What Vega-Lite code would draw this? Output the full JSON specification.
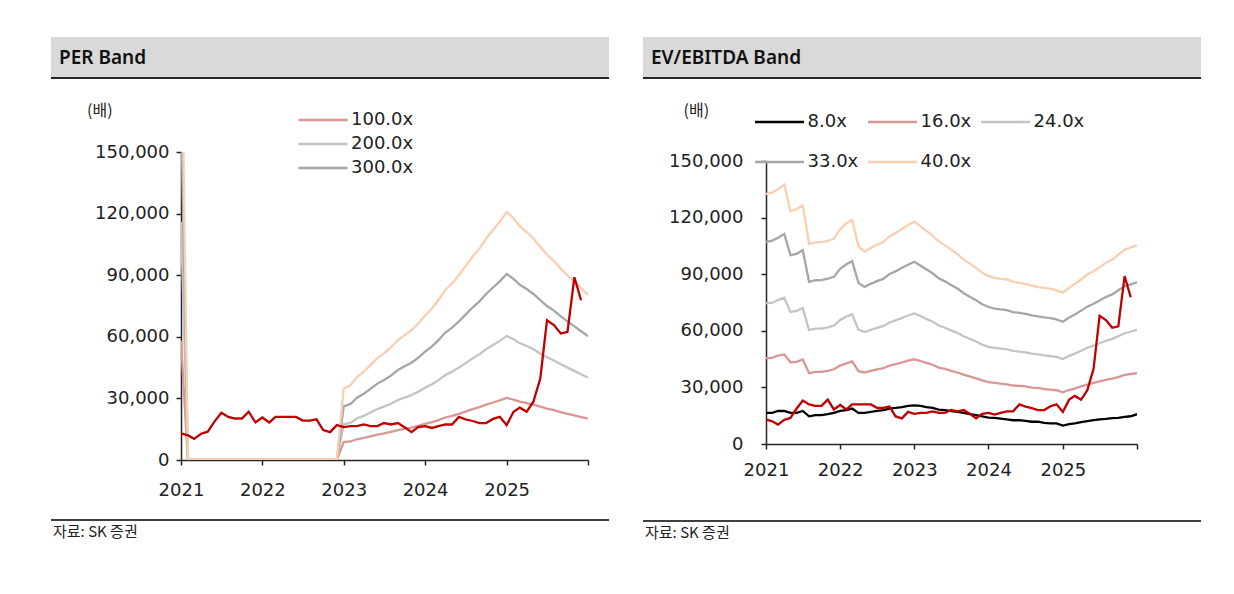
{
"$schema": "https://vega.github.io/schema/vega-lite/v6.json",
"padding": {"left": 50, "top": 37, "right": 0, "bottom": 0},
"background": "white",
"spacing": 32,
"resolve": {"scale": {"color": "independent"}, "legend": {"color": "independent"}},
"config": {
  "view": {"stroke": null},
  "axis": {"labelFont": "DejaVu Sans", "labelFontSize": 18, "labelColor": "#222222", "grid": false, "domainColor": "#262626", "tickColor": "#262626", "domainWidth": 1.5, "tickWidth": 1.5, "tickSize": 5},
  "legend": {"labelFont": "DejaVu Sans", "labelFontSize": 18, "labelColor": "#222222", "symbolType": "M-1.78,0H1.78", "symbolSize": 756, "symbolStrokeWidth": 2.5, "symbolOffset": 9.5, "labelOffset": 13, "padding": 0, "title": null}
},
"datasets": {
"per": [
{"d":"2021-01","s":"100.0x","v":58000},{"d":"2021-02","s":"100.0x","v":0},{"d":"2021-03","s":"100.0x","v":0},{"d":"2021-04","s":"100.0x","v":0},{"d":"2021-05","s":"100.0x","v":0},{"d":"2021-06","s":"100.0x","v":0},{"d":"2021-07","s":"100.0x","v":0},{"d":"2021-08","s":"100.0x","v":0},{"d":"2021-09","s":"100.0x","v":0},{"d":"2021-10","s":"100.0x","v":0},{"d":"2021-11","s":"100.0x","v":0},{"d":"2021-12","s":"100.0x","v":0},
{"d":"2022-01","s":"100.0x","v":0},{"d":"2022-02","s":"100.0x","v":0},{"d":"2022-03","s":"100.0x","v":0},{"d":"2022-04","s":"100.0x","v":0},{"d":"2022-05","s":"100.0x","v":0},{"d":"2022-06","s":"100.0x","v":0},{"d":"2022-07","s":"100.0x","v":0},{"d":"2022-08","s":"100.0x","v":0},{"d":"2022-09","s":"100.0x","v":0},{"d":"2022-10","s":"100.0x","v":0},{"d":"2022-11","s":"100.0x","v":0},{"d":"2022-12","s":"100.0x","v":0},
{"d":"2023-01","s":"100.0x","v":8700},{"d":"2023-02","s":"100.0x","v":9100},{"d":"2023-03","s":"100.0x","v":10100},{"d":"2023-04","s":"100.0x","v":10750},{"d":"2023-05","s":"100.0x","v":11550},{"d":"2023-06","s":"100.0x","v":12400},{"d":"2023-07","s":"100.0x","v":13000},{"d":"2023-08","s":"100.0x","v":13700},{"d":"2023-09","s":"100.0x","v":14600},{"d":"2023-10","s":"100.0x","v":15200},{"d":"2023-11","s":"100.0x","v":15800},{"d":"2023-12","s":"100.0x","v":16600},
{"d":"2024-01","s":"100.0x","v":17600},{"d":"2024-02","s":"100.0x","v":18450},{"d":"2024-03","s":"100.0x","v":19450},{"d":"2024-04","s":"100.0x","v":20700},{"d":"2024-05","s":"100.0x","v":21500},{"d":"2024-06","s":"100.0x","v":22500},{"d":"2024-07","s":"100.0x","v":23600},{"d":"2024-08","s":"100.0x","v":24750},{"d":"2024-09","s":"100.0x","v":25750},{"d":"2024-10","s":"100.0x","v":26950},{"d":"2024-11","s":"100.0x","v":28000},{"d":"2024-12","s":"100.0x","v":29000},
{"d":"2025-01","s":"100.0x","v":30200},{"d":"2025-02","s":"100.0x","v":29400},{"d":"2025-03","s":"100.0x","v":28450},{"d":"2025-04","s":"100.0x","v":27750},{"d":"2025-05","s":"100.0x","v":26950},{"d":"2025-06","s":"100.0x","v":25950},{"d":"2025-07","s":"100.0x","v":25000},{"d":"2025-08","s":"100.0x","v":24250},{"d":"2025-09","s":"100.0x","v":23300},{"d":"2025-10","s":"100.0x","v":22500},{"d":"2025-11","s":"100.0x","v":21700},{"d":"2025-12","s":"100.0x","v":20900},{"d":"2026-01","s":"100.0x","v":20100},

{"d":"2021-01","s":"200.0x","v":116000},{"d":"2021-02","s":"200.0x","v":0},{"d":"2021-03","s":"200.0x","v":0},{"d":"2021-04","s":"200.0x","v":0},{"d":"2021-05","s":"200.0x","v":0},{"d":"2021-06","s":"200.0x","v":0},{"d":"2021-07","s":"200.0x","v":0},{"d":"2021-08","s":"200.0x","v":0},{"d":"2021-09","s":"200.0x","v":0},{"d":"2021-10","s":"200.0x","v":0},{"d":"2021-11","s":"200.0x","v":0},{"d":"2021-12","s":"200.0x","v":0},
{"d":"2022-01","s":"200.0x","v":0},{"d":"2022-02","s":"200.0x","v":0},{"d":"2022-03","s":"200.0x","v":0},{"d":"2022-04","s":"200.0x","v":0},{"d":"2022-05","s":"200.0x","v":0},{"d":"2022-06","s":"200.0x","v":0},{"d":"2022-07","s":"200.0x","v":0},{"d":"2022-08","s":"200.0x","v":0},{"d":"2022-09","s":"200.0x","v":0},{"d":"2022-10","s":"200.0x","v":0},{"d":"2022-11","s":"200.0x","v":0},{"d":"2022-12","s":"200.0x","v":0},
{"d":"2023-01","s":"200.0x","v":17400},{"d":"2023-02","s":"200.0x","v":18200},{"d":"2023-03","s":"200.0x","v":20200},{"d":"2023-04","s":"200.0x","v":21500},{"d":"2023-05","s":"200.0x","v":23100},{"d":"2023-06","s":"200.0x","v":24800},{"d":"2023-07","s":"200.0x","v":26000},{"d":"2023-08","s":"200.0x","v":27400},{"d":"2023-09","s":"200.0x","v":29200},{"d":"2023-10","s":"200.0x","v":30400},{"d":"2023-11","s":"200.0x","v":31600},{"d":"2023-12","s":"200.0x","v":33200},
{"d":"2024-01","s":"200.0x","v":35200},{"d":"2024-02","s":"200.0x","v":36900},{"d":"2024-03","s":"200.0x","v":38900},{"d":"2024-04","s":"200.0x","v":41400},{"d":"2024-05","s":"200.0x","v":43000},{"d":"2024-06","s":"200.0x","v":45000},{"d":"2024-07","s":"200.0x","v":47200},{"d":"2024-08","s":"200.0x","v":49500},{"d":"2024-09","s":"200.0x","v":51500},{"d":"2024-10","s":"200.0x","v":53900},{"d":"2024-11","s":"200.0x","v":56000},{"d":"2024-12","s":"200.0x","v":58000},
{"d":"2025-01","s":"200.0x","v":60400},{"d":"2025-02","s":"200.0x","v":58800},{"d":"2025-03","s":"200.0x","v":56900},{"d":"2025-04","s":"200.0x","v":55500},{"d":"2025-05","s":"200.0x","v":53900},{"d":"2025-06","s":"200.0x","v":51900},{"d":"2025-07","s":"200.0x","v":50000},{"d":"2025-08","s":"200.0x","v":48500},{"d":"2025-09","s":"200.0x","v":46600},{"d":"2025-10","s":"200.0x","v":45000},{"d":"2025-11","s":"200.0x","v":43400},{"d":"2025-12","s":"200.0x","v":41800},{"d":"2026-01","s":"200.0x","v":40200},

{"d":"2021-01","s":"300.0x","v":174000},{"d":"2021-02","s":"300.0x","v":0},{"d":"2021-03","s":"300.0x","v":0},{"d":"2021-04","s":"300.0x","v":0},{"d":"2021-05","s":"300.0x","v":0},{"d":"2021-06","s":"300.0x","v":0},{"d":"2021-07","s":"300.0x","v":0},{"d":"2021-08","s":"300.0x","v":0},{"d":"2021-09","s":"300.0x","v":0},{"d":"2021-10","s":"300.0x","v":0},{"d":"2021-11","s":"300.0x","v":0},{"d":"2021-12","s":"300.0x","v":0},
{"d":"2022-01","s":"300.0x","v":0},{"d":"2022-02","s":"300.0x","v":0},{"d":"2022-03","s":"300.0x","v":0},{"d":"2022-04","s":"300.0x","v":0},{"d":"2022-05","s":"300.0x","v":0},{"d":"2022-06","s":"300.0x","v":0},{"d":"2022-07","s":"300.0x","v":0},{"d":"2022-08","s":"300.0x","v":0},{"d":"2022-09","s":"300.0x","v":0},{"d":"2022-10","s":"300.0x","v":0},{"d":"2022-11","s":"300.0x","v":0},{"d":"2022-12","s":"300.0x","v":0},
{"d":"2023-01","s":"300.0x","v":26100},{"d":"2023-02","s":"300.0x","v":27300},{"d":"2023-03","s":"300.0x","v":30300},{"d":"2023-04","s":"300.0x","v":32250},{"d":"2023-05","s":"300.0x","v":34650},{"d":"2023-06","s":"300.0x","v":37200},{"d":"2023-07","s":"300.0x","v":39000},{"d":"2023-08","s":"300.0x","v":41100},{"d":"2023-09","s":"300.0x","v":43800},{"d":"2023-10","s":"300.0x","v":45600},{"d":"2023-11","s":"300.0x","v":47400},{"d":"2023-12","s":"300.0x","v":49800},
{"d":"2024-01","s":"300.0x","v":52800},{"d":"2024-02","s":"300.0x","v":55350},{"d":"2024-03","s":"300.0x","v":58350},{"d":"2024-04","s":"300.0x","v":62100},{"d":"2024-05","s":"300.0x","v":64500},{"d":"2024-06","s":"300.0x","v":67500},{"d":"2024-07","s":"300.0x","v":70800},{"d":"2024-08","s":"300.0x","v":74250},{"d":"2024-09","s":"300.0x","v":77250},{"d":"2024-10","s":"300.0x","v":80850},{"d":"2024-11","s":"300.0x","v":84000},{"d":"2024-12","s":"300.0x","v":87000},
{"d":"2025-01","s":"300.0x","v":90600},{"d":"2025-02","s":"300.0x","v":88200},{"d":"2025-03","s":"300.0x","v":85350},{"d":"2025-04","s":"300.0x","v":83250},{"d":"2025-05","s":"300.0x","v":80850},{"d":"2025-06","s":"300.0x","v":77850},{"d":"2025-07","s":"300.0x","v":75000},{"d":"2025-08","s":"300.0x","v":72750},{"d":"2025-09","s":"300.0x","v":69900},{"d":"2025-10","s":"300.0x","v":67500},{"d":"2025-11","s":"300.0x","v":65100},{"d":"2025-12","s":"300.0x","v":62700},{"d":"2026-01","s":"300.0x","v":60300},

{"d":"2021-01","s":"400.0x","v":232000},{"d":"2021-02","s":"400.0x","v":0},{"d":"2021-03","s":"400.0x","v":0},{"d":"2021-04","s":"400.0x","v":0},{"d":"2021-05","s":"400.0x","v":0},{"d":"2021-06","s":"400.0x","v":0},{"d":"2021-07","s":"400.0x","v":0},{"d":"2021-08","s":"400.0x","v":0},{"d":"2021-09","s":"400.0x","v":0},{"d":"2021-10","s":"400.0x","v":0},{"d":"2021-11","s":"400.0x","v":0},{"d":"2021-12","s":"400.0x","v":0},
{"d":"2022-01","s":"400.0x","v":0},{"d":"2022-02","s":"400.0x","v":0},{"d":"2022-03","s":"400.0x","v":0},{"d":"2022-04","s":"400.0x","v":0},{"d":"2022-05","s":"400.0x","v":0},{"d":"2022-06","s":"400.0x","v":0},{"d":"2022-07","s":"400.0x","v":0},{"d":"2022-08","s":"400.0x","v":0},{"d":"2022-09","s":"400.0x","v":0},{"d":"2022-10","s":"400.0x","v":0},{"d":"2022-11","s":"400.0x","v":0},{"d":"2022-12","s":"400.0x","v":0},
{"d":"2023-01","s":"400.0x","v":34800},{"d":"2023-02","s":"400.0x","v":36400},{"d":"2023-03","s":"400.0x","v":40400},{"d":"2023-04","s":"400.0x","v":43000},{"d":"2023-05","s":"400.0x","v":46200},{"d":"2023-06","s":"400.0x","v":49600},{"d":"2023-07","s":"400.0x","v":52000},{"d":"2023-08","s":"400.0x","v":54800},{"d":"2023-09","s":"400.0x","v":58400},{"d":"2023-10","s":"400.0x","v":60800},{"d":"2023-11","s":"400.0x","v":63200},{"d":"2023-12","s":"400.0x","v":66400},
{"d":"2024-01","s":"400.0x","v":70400},{"d":"2024-02","s":"400.0x","v":73800},{"d":"2024-03","s":"400.0x","v":77800},{"d":"2024-04","s":"400.0x","v":82800},{"d":"2024-05","s":"400.0x","v":86000},{"d":"2024-06","s":"400.0x","v":90000},{"d":"2024-07","s":"400.0x","v":94400},{"d":"2024-08","s":"400.0x","v":99000},{"d":"2024-09","s":"400.0x","v":103000},{"d":"2024-10","s":"400.0x","v":107800},{"d":"2024-11","s":"400.0x","v":112000},{"d":"2024-12","s":"400.0x","v":116000},
{"d":"2025-01","s":"400.0x","v":120800},{"d":"2025-02","s":"400.0x","v":117600},{"d":"2025-03","s":"400.0x","v":113800},{"d":"2025-04","s":"400.0x","v":111000},{"d":"2025-05","s":"400.0x","v":107800},{"d":"2025-06","s":"400.0x","v":103800},{"d":"2025-07","s":"400.0x","v":100000},{"d":"2025-08","s":"400.0x","v":97000},{"d":"2025-09","s":"400.0x","v":93200},{"d":"2025-10","s":"400.0x","v":90000},{"d":"2025-11","s":"400.0x","v":86800},{"d":"2025-12","s":"400.0x","v":83600},{"d":"2026-01","s":"400.0x","v":80400},

{"d":"2021-01","s":"price","v":13000},{"d":"2021-02","s":"price","v":12000},{"d":"2021-03","s":"price","v":10300},{"d":"2021-04","s":"price","v":12800},{"d":"2021-05","s":"price","v":13800},{"d":"2021-06","s":"price","v":18800},{"d":"2021-07","s":"price","v":23000},{"d":"2021-08","s":"price","v":21000},{"d":"2021-09","s":"price","v":20200},{"d":"2021-10","s":"price","v":20200},{"d":"2021-11","s":"price","v":23500},{"d":"2021-12","s":"price","v":18300},
{"d":"2022-01","s":"price","v":20700},{"d":"2022-02","s":"price","v":18300},{"d":"2022-03","s":"price","v":21000},{"d":"2022-04","s":"price","v":21000},{"d":"2022-05","s":"price","v":21000},{"d":"2022-06","s":"price","v":21000},{"d":"2022-07","s":"price","v":19200},{"d":"2022-08","s":"price","v":19200},{"d":"2022-09","s":"price","v":19800},{"d":"2022-10","s":"price","v":14600},{"d":"2022-11","s":"price","v":13600},{"d":"2022-12","s":"price","v":17000},
{"d":"2023-01","s":"price","v":16000},{"d":"2023-02","s":"price","v":16500},{"d":"2023-03","s":"price","v":16500},{"d":"2023-04","s":"price","v":17300},{"d":"2023-05","s":"price","v":16500},{"d":"2023-06","s":"price","v":16500},{"d":"2023-07","s":"price","v":18000},{"d":"2023-08","s":"price","v":17300},{"d":"2023-09","s":"price","v":18000},{"d":"2023-10","s":"price","v":16000},{"d":"2023-11","s":"price","v":13600},{"d":"2023-12","s":"price","v":16000},
{"d":"2024-01","s":"price","v":16500},{"d":"2024-02","s":"price","v":15600},{"d":"2024-03","s":"price","v":16500},{"d":"2024-04","s":"price","v":17300},{"d":"2024-05","s":"price","v":17300},{"d":"2024-06","s":"price","v":21000},{"d":"2024-07","s":"price","v":19800},{"d":"2024-08","s":"price","v":19000},{"d":"2024-09","s":"price","v":18000},{"d":"2024-10","s":"price","v":18000},{"d":"2024-11","s":"price","v":20000},{"d":"2024-12","s":"price","v":21000},
{"d":"2025-01","s":"price","v":17000},{"d":"2025-02","s":"price","v":23500},{"d":"2025-03","s":"price","v":25500},{"d":"2025-04","s":"price","v":23500},{"d":"2025-05","s":"price","v":28400},{"d":"2025-06","s":"price","v":39700},{"d":"2025-07","s":"price","v":68000},{"d":"2025-08","s":"price","v":65700},{"d":"2025-09","s":"price","v":61600},{"d":"2025-10","s":"price","v":62400},{"d":"2025-11","s":"price","v":89000},{"d":"2025-12","s":"price","v":77800}
],
"ev": [
{"d":"2021-01","s":"8.0x","v":16500},{"d":"2021-02","s":"8.0x","v":16500},{"d":"2021-03","s":"8.0x","v":17500},{"d":"2021-04","s":"8.0x","v":17500},{"d":"2021-05","s":"8.0x","v":16500},{"d":"2021-06","s":"8.0x","v":16500},{"d":"2021-07","s":"8.0x","v":17500},{"d":"2021-08","s":"8.0x","v":14700},{"d":"2021-09","s":"8.0x","v":15300},{"d":"2021-10","s":"8.0x","v":15300},{"d":"2021-11","s":"8.0x","v":15800},{"d":"2021-12","s":"8.0x","v":16500},
{"d":"2022-01","s":"8.0x","v":17500},{"d":"2022-02","s":"8.0x","v":17900},{"d":"2022-03","s":"8.0x","v":18800},{"d":"2022-04","s":"8.0x","v":16500},{"d":"2022-05","s":"8.0x","v":16500},{"d":"2022-06","s":"8.0x","v":17000},{"d":"2022-07","s":"8.0x","v":17500},{"d":"2022-08","s":"8.0x","v":17900},{"d":"2022-09","s":"8.0x","v":18800},{"d":"2022-10","s":"8.0x","v":19100},{"d":"2022-11","s":"8.0x","v":19600},{"d":"2022-12","s":"8.0x","v":20200},
{"d":"2023-01","s":"8.0x","v":20500},{"d":"2023-02","s":"8.0x","v":20200},{"d":"2023-03","s":"8.0x","v":19600},{"d":"2023-04","s":"8.0x","v":19100},{"d":"2023-05","s":"8.0x","v":18200},{"d":"2023-06","s":"8.0x","v":17900},{"d":"2023-07","s":"8.0x","v":17400},{"d":"2023-08","s":"8.0x","v":17000},{"d":"2023-09","s":"8.0x","v":16500},{"d":"2023-10","s":"8.0x","v":15800},{"d":"2023-11","s":"8.0x","v":15300},{"d":"2023-12","s":"8.0x","v":14700},
{"d":"2024-01","s":"8.0x","v":14000},{"d":"2024-02","s":"8.0x","v":13900},{"d":"2024-03","s":"8.0x","v":13500},{"d":"2024-04","s":"8.0x","v":13000},{"d":"2024-05","s":"8.0x","v":12600},{"d":"2024-06","s":"8.0x","v":12600},{"d":"2024-07","s":"8.0x","v":12300},{"d":"2024-08","s":"8.0x","v":11800},{"d":"2024-09","s":"8.0x","v":11800},{"d":"2024-10","s":"8.0x","v":11200},{"d":"2024-11","s":"8.0x","v":10900},{"d":"2024-12","s":"8.0x","v":10900},
{"d":"2025-01","s":"8.0x","v":9800},{"d":"2025-02","s":"8.0x","v":10500},{"d":"2025-03","s":"8.0x","v":10900},{"d":"2025-04","s":"8.0x","v":11600},{"d":"2025-05","s":"8.0x","v":12100},{"d":"2025-06","s":"8.0x","v":12600},{"d":"2025-07","s":"8.0x","v":13000},{"d":"2025-08","s":"8.0x","v":13300},{"d":"2025-09","s":"8.0x","v":13700},{"d":"2025-10","s":"8.0x","v":13900},{"d":"2025-11","s":"8.0x","v":14400},{"d":"2025-12","s":"8.0x","v":14700},{"d":"2026-01","s":"8.0x","v":15800},

{"d":"2021-01","s":"16.0x","v":45500},{"d":"2021-02","s":"16.0x","v":45700},{"d":"2021-03","s":"16.0x","v":46900},{"d":"2021-04","s":"16.0x","v":47500},{"d":"2021-05","s":"16.0x","v":43300},{"d":"2021-06","s":"16.0x","v":43500},{"d":"2021-07","s":"16.0x","v":44800},{"d":"2021-08","s":"16.0x","v":37500},{"d":"2021-09","s":"16.0x","v":38200},{"d":"2021-10","s":"16.0x","v":38200},{"d":"2021-11","s":"16.0x","v":38800},{"d":"2021-12","s":"16.0x","v":39600},
{"d":"2022-01","s":"16.0x","v":41600},{"d":"2022-02","s":"16.0x","v":42700},{"d":"2022-03","s":"16.0x","v":43800},{"d":"2022-04","s":"16.0x","v":38600},{"d":"2022-05","s":"16.0x","v":37900},{"d":"2022-06","s":"16.0x","v":38700},{"d":"2022-07","s":"16.0x","v":39500},{"d":"2022-08","s":"16.0x","v":40200},{"d":"2022-09","s":"16.0x","v":41600},{"d":"2022-10","s":"16.0x","v":42300},{"d":"2022-11","s":"16.0x","v":43200},{"d":"2022-12","s":"16.0x","v":44200},
{"d":"2023-01","s":"16.0x","v":44900},{"d":"2023-02","s":"16.0x","v":44000},{"d":"2023-03","s":"16.0x","v":43000},{"d":"2023-04","s":"16.0x","v":42000},{"d":"2023-05","s":"16.0x","v":40500},{"d":"2023-06","s":"16.0x","v":39800},{"d":"2023-07","s":"16.0x","v":38800},{"d":"2023-08","s":"16.0x","v":37900},{"d":"2023-09","s":"16.0x","v":36800},{"d":"2023-10","s":"16.0x","v":35800},{"d":"2023-11","s":"16.0x","v":34800},{"d":"2023-12","s":"16.0x","v":33700},
{"d":"2024-01","s":"16.0x","v":32800},{"d":"2024-02","s":"16.0x","v":32400},{"d":"2024-03","s":"16.0x","v":32000},{"d":"2024-04","s":"16.0x","v":31600},{"d":"2024-05","s":"16.0x","v":31000},{"d":"2024-06","s":"16.0x","v":30800},{"d":"2024-07","s":"16.0x","v":30500},{"d":"2024-08","s":"16.0x","v":29900},{"d":"2024-09","s":"16.0x","v":29700},{"d":"2024-10","s":"16.0x","v":29100},{"d":"2024-11","s":"16.0x","v":28800},{"d":"2024-12","s":"16.0x","v":28500},
{"d":"2025-01","s":"16.0x","v":27400},{"d":"2025-02","s":"16.0x","v":28600},{"d":"2025-03","s":"16.0x","v":29400},{"d":"2025-04","s":"16.0x","v":30500},{"d":"2025-05","s":"16.0x","v":31500},{"d":"2025-06","s":"16.0x","v":32400},{"d":"2025-07","s":"16.0x","v":33200},{"d":"2025-08","s":"16.0x","v":34000},{"d":"2025-09","s":"16.0x","v":34700},{"d":"2025-10","s":"16.0x","v":35500},{"d":"2025-11","s":"16.0x","v":36600},{"d":"2025-12","s":"16.0x","v":37100},{"d":"2026-01","s":"16.0x","v":37500},

{"d":"2021-01","s":"24.0x","v":74500},{"d":"2021-02","s":"24.0x","v":74900},{"d":"2021-03","s":"24.0x","v":76300},{"d":"2021-04","s":"24.0x","v":77500},{"d":"2021-05","s":"24.0x","v":70000},{"d":"2021-06","s":"24.0x","v":70500},{"d":"2021-07","s":"24.0x","v":72100},{"d":"2021-08","s":"24.0x","v":60400},{"d":"2021-09","s":"24.0x","v":61100},{"d":"2021-10","s":"24.0x","v":61200},{"d":"2021-11","s":"24.0x","v":61800},{"d":"2021-12","s":"24.0x","v":62700},
{"d":"2022-01","s":"24.0x","v":65800},{"d":"2022-02","s":"24.0x","v":67500},{"d":"2022-03","s":"24.0x","v":68800},{"d":"2022-04","s":"24.0x","v":60600},{"d":"2022-05","s":"24.0x","v":59300},{"d":"2022-06","s":"24.0x","v":60500},{"d":"2022-07","s":"24.0x","v":61600},{"d":"2022-08","s":"24.0x","v":62500},{"d":"2022-09","s":"24.0x","v":64400},{"d":"2022-10","s":"24.0x","v":65500},{"d":"2022-11","s":"24.0x","v":66800},{"d":"2022-12","s":"24.0x","v":68100},
{"d":"2023-01","s":"24.0x","v":69200},{"d":"2023-02","s":"24.0x","v":67800},{"d":"2023-03","s":"24.0x","v":66300},{"d":"2023-04","s":"24.0x","v":64800},{"d":"2023-05","s":"24.0x","v":62800},{"d":"2023-06","s":"24.0x","v":61600},{"d":"2023-07","s":"24.0x","v":60200},{"d":"2023-08","s":"24.0x","v":58900},{"d":"2023-09","s":"24.0x","v":57100},{"d":"2023-10","s":"24.0x","v":55700},{"d":"2023-11","s":"24.0x","v":54300},{"d":"2023-12","s":"24.0x","v":52700},
{"d":"2024-01","s":"24.0x","v":51500},{"d":"2024-02","s":"24.0x","v":51000},{"d":"2024-03","s":"24.0x","v":50500},{"d":"2024-04","s":"24.0x","v":50100},{"d":"2024-05","s":"24.0x","v":49300},{"d":"2024-06","s":"24.0x","v":49000},{"d":"2024-07","s":"24.0x","v":48600},{"d":"2024-08","s":"24.0x","v":47900},{"d":"2024-09","s":"24.0x","v":47500},{"d":"2024-10","s":"24.0x","v":47000},{"d":"2024-11","s":"24.0x","v":46600},{"d":"2024-12","s":"24.0x","v":46200},
{"d":"2025-01","s":"24.0x","v":45000},{"d":"2025-02","s":"24.0x","v":46700},{"d":"2025-03","s":"24.0x","v":47900},{"d":"2025-04","s":"24.0x","v":49400},{"d":"2025-05","s":"24.0x","v":51000},{"d":"2025-06","s":"24.0x","v":52100},{"d":"2025-07","s":"24.0x","v":53400},{"d":"2025-08","s":"24.0x","v":54700},{"d":"2025-09","s":"24.0x","v":55700},{"d":"2025-10","s":"24.0x","v":57200},{"d":"2025-11","s":"24.0x","v":58700},{"d":"2025-12","s":"24.0x","v":59500},{"d":"2026-01","s":"24.0x","v":60600},

{"d":"2021-01","s":"33.0x","v":107100},{"d":"2021-02","s":"33.0x","v":107800},{"d":"2021-03","s":"33.0x","v":109300},{"d":"2021-04","s":"33.0x","v":111300},{"d":"2021-05","s":"33.0x","v":100100},{"d":"2021-06","s":"33.0x","v":100800},{"d":"2021-07","s":"33.0x","v":102800},{"d":"2021-08","s":"33.0x","v":86000},{"d":"2021-09","s":"33.0x","v":86800},{"d":"2021-10","s":"33.0x","v":86900},{"d":"2021-11","s":"33.0x","v":87600},{"d":"2021-12","s":"33.0x","v":88600},
{"d":"2022-01","s":"33.0x","v":92900},{"d":"2022-02","s":"33.0x","v":95300},{"d":"2022-03","s":"33.0x","v":96900},{"d":"2022-04","s":"33.0x","v":85400},{"d":"2022-05","s":"33.0x","v":83300},{"d":"2022-06","s":"33.0x","v":84900},{"d":"2022-07","s":"33.0x","v":86300},{"d":"2022-08","s":"33.0x","v":87500},{"d":"2022-09","s":"33.0x","v":90100},{"d":"2022-10","s":"33.0x","v":91500},{"d":"2022-11","s":"33.0x","v":93400},{"d":"2022-12","s":"33.0x","v":95000},
{"d":"2023-01","s":"33.0x","v":96600},{"d":"2023-02","s":"33.0x","v":94500},{"d":"2023-03","s":"33.0x","v":92600},{"d":"2023-04","s":"33.0x","v":90500},{"d":"2023-05","s":"33.0x","v":87900},{"d":"2023-06","s":"33.0x","v":86200},{"d":"2023-07","s":"33.0x","v":84300},{"d":"2023-08","s":"33.0x","v":82400},{"d":"2023-09","s":"33.0x","v":79900},{"d":"2023-10","s":"33.0x","v":78100},{"d":"2023-11","s":"33.0x","v":76200},{"d":"2023-12","s":"33.0x","v":74100},
{"d":"2024-01","s":"33.0x","v":72600},{"d":"2024-02","s":"33.0x","v":71800},{"d":"2024-03","s":"33.0x","v":71300},{"d":"2024-04","s":"33.0x","v":71000},{"d":"2024-05","s":"33.0x","v":69900},{"d":"2024-06","s":"33.0x","v":69500},{"d":"2024-07","s":"33.0x","v":69000},{"d":"2024-08","s":"33.0x","v":68200},{"d":"2024-09","s":"33.0x","v":67600},{"d":"2024-10","s":"33.0x","v":67100},{"d":"2024-11","s":"33.0x","v":66700},{"d":"2024-12","s":"33.0x","v":66000},
{"d":"2025-01","s":"33.0x","v":64800},{"d":"2025-02","s":"33.0x","v":67000},{"d":"2025-03","s":"33.0x","v":68700},{"d":"2025-04","s":"33.0x","v":70700},{"d":"2025-05","s":"33.0x","v":72800},{"d":"2025-06","s":"33.0x","v":74300},{"d":"2025-07","s":"33.0x","v":76000},{"d":"2025-08","s":"33.0x","v":77900},{"d":"2025-09","s":"33.0x","v":79300},{"d":"2025-10","s":"33.0x","v":81500},{"d":"2025-11","s":"33.0x","v":83600},{"d":"2025-12","s":"33.0x","v":84600},{"d":"2026-01","s":"33.0x","v":85700},

{"d":"2021-01","s":"40.0x","v":132500},{"d":"2021-02","s":"40.0x","v":133300},{"d":"2021-03","s":"40.0x","v":135000},{"d":"2021-04","s":"40.0x","v":137500},{"d":"2021-05","s":"40.0x","v":123500},{"d":"2021-06","s":"40.0x","v":124400},{"d":"2021-07","s":"40.0x","v":126700},{"d":"2021-08","s":"40.0x","v":106000},{"d":"2021-09","s":"40.0x","v":106800},{"d":"2021-10","s":"40.0x","v":107000},{"d":"2021-11","s":"40.0x","v":107700},{"d":"2021-12","s":"40.0x","v":108800},
{"d":"2022-01","s":"40.0x","v":114000},{"d":"2022-02","s":"40.0x","v":117000},{"d":"2022-03","s":"40.0x","v":118800},{"d":"2022-04","s":"40.0x","v":104700},{"d":"2022-05","s":"40.0x","v":102000},{"d":"2022-06","s":"40.0x","v":103900},{"d":"2022-07","s":"40.0x","v":105600},{"d":"2022-08","s":"40.0x","v":107000},{"d":"2022-09","s":"40.0x","v":110000},{"d":"2022-10","s":"40.0x","v":111800},{"d":"2022-11","s":"40.0x","v":114000},{"d":"2022-12","s":"40.0x","v":116000},
{"d":"2023-01","s":"40.0x","v":117900},{"d":"2023-02","s":"40.0x","v":115300},{"d":"2023-03","s":"40.0x","v":113000},{"d":"2023-04","s":"40.0x","v":110500},{"d":"2023-05","s":"40.0x","v":107400},{"d":"2023-06","s":"40.0x","v":105300},{"d":"2023-07","s":"40.0x","v":103000},{"d":"2023-08","s":"40.0x","v":100700},{"d":"2023-09","s":"40.0x","v":97700},{"d":"2023-10","s":"40.0x","v":95600},{"d":"2023-11","s":"40.0x","v":93300},{"d":"2023-12","s":"40.0x","v":90700},
{"d":"2024-01","s":"40.0x","v":89000},{"d":"2024-02","s":"40.0x","v":88000},{"d":"2024-03","s":"40.0x","v":87500},{"d":"2024-04","s":"40.0x","v":87200},{"d":"2024-05","s":"40.0x","v":86000},{"d":"2024-06","s":"40.0x","v":85400},{"d":"2024-07","s":"40.0x","v":84900},{"d":"2024-08","s":"40.0x","v":84000},{"d":"2024-09","s":"40.0x","v":83200},{"d":"2024-10","s":"40.0x","v":82800},{"d":"2024-11","s":"40.0x","v":82300},{"d":"2024-12","s":"40.0x","v":81400},
{"d":"2025-01","s":"40.0x","v":80200},{"d":"2025-02","s":"40.0x","v":82800},{"d":"2025-03","s":"40.0x","v":84900},{"d":"2025-04","s":"40.0x","v":87200},{"d":"2025-05","s":"40.0x","v":89800},{"d":"2025-06","s":"40.0x","v":91600},{"d":"2025-07","s":"40.0x","v":93700},{"d":"2025-08","s":"40.0x","v":96000},{"d":"2025-09","s":"40.0x","v":97700},{"d":"2025-10","s":"40.0x","v":100400},{"d":"2025-11","s":"40.0x","v":103000},{"d":"2025-12","s":"40.0x","v":104200},{"d":"2026-01","s":"40.0x","v":105300},

{"d":"2021-01","s":"price","v":13000},{"d":"2021-02","s":"price","v":12000},{"d":"2021-03","s":"price","v":10300},{"d":"2021-04","s":"price","v":12800},{"d":"2021-05","s":"price","v":13800},{"d":"2021-06","s":"price","v":18800},{"d":"2021-07","s":"price","v":23000},{"d":"2021-08","s":"price","v":21000},{"d":"2021-09","s":"price","v":20200},{"d":"2021-10","s":"price","v":20200},{"d":"2021-11","s":"price","v":23500},{"d":"2021-12","s":"price","v":18300},
{"d":"2022-01","s":"price","v":20700},{"d":"2022-02","s":"price","v":18300},{"d":"2022-03","s":"price","v":21000},{"d":"2022-04","s":"price","v":21000},{"d":"2022-05","s":"price","v":21000},{"d":"2022-06","s":"price","v":21000},{"d":"2022-07","s":"price","v":19200},{"d":"2022-08","s":"price","v":19200},{"d":"2022-09","s":"price","v":19800},{"d":"2022-10","s":"price","v":14600},{"d":"2022-11","s":"price","v":13600},{"d":"2022-12","s":"price","v":17000},
{"d":"2023-01","s":"price","v":16000},{"d":"2023-02","s":"price","v":16500},{"d":"2023-03","s":"price","v":16500},{"d":"2023-04","s":"price","v":17300},{"d":"2023-05","s":"price","v":16500},{"d":"2023-06","s":"price","v":16500},{"d":"2023-07","s":"price","v":18000},{"d":"2023-08","s":"price","v":17300},{"d":"2023-09","s":"price","v":18000},{"d":"2023-10","s":"price","v":16000},{"d":"2023-11","s":"price","v":13600},{"d":"2023-12","s":"price","v":16000},
{"d":"2024-01","s":"price","v":16500},{"d":"2024-02","s":"price","v":15600},{"d":"2024-03","s":"price","v":16500},{"d":"2024-04","s":"price","v":17300},{"d":"2024-05","s":"price","v":17300},{"d":"2024-06","s":"price","v":21000},{"d":"2024-07","s":"price","v":19800},{"d":"2024-08","s":"price","v":19000},{"d":"2024-09","s":"price","v":18000},{"d":"2024-10","s":"price","v":18000},{"d":"2024-11","s":"price","v":20000},{"d":"2024-12","s":"price","v":21000},
{"d":"2025-01","s":"price","v":17000},{"d":"2025-02","s":"price","v":23500},{"d":"2025-03","s":"price","v":25500},{"d":"2025-04","s":"price","v":23500},{"d":"2025-05","s":"price","v":28400},{"d":"2025-06","s":"price","v":39700},{"d":"2025-07","s":"price","v":68000},{"d":"2025-08","s":"price","v":65700},{"d":"2025-09","s":"price","v":61600},{"d":"2025-10","s":"price","v":62400},{"d":"2025-11","s":"price","v":89000},{"d":"2025-12","s":"price","v":77800}
],
"one": [{"v": 0}],
"top": [{"v": 1}],
"none": [],
"t1": [{"t": "PER Band"}],
"t2": [{"t": "EV/EBITDA Band"}],
"src": [{"t": "자료: SK 증권"}]
},
"hconcat": [
{
 "spacing": 23,
 "resolve": {"scale": {"color": "independent"}, "legend": {"color": "independent"}},
 "vconcat": [
  {
   "width": 558, "height": 41,
   "view": {"fill": "#d9d9d9", "stroke": null},
   "layer": [
    {"data": {"name": "one"}, "mark": {"type": "rule", "color": "#262626", "strokeWidth": 2},
     "encoding": {"y": {"field": "v", "type": "quantitative", "scale": {"domain": [0, 1]}, "axis": null}}},
    {"data": {"name": "t1"}, "mark": {"type": "text", "align": "left", "baseline": "middle", "dx": 8, "font": "Noto Sans", "fontSize": 19, "fontWeight": 600, "color": "#111111"},
     "encoding": {"text": {"field": "t"}, "x": {"datum": 0, "type": "quantitative", "scale": {"domain": [0, 1]}, "axis": null}, "y": {"datum": 0.5, "type": "quantitative", "axis": null}}}
   ]
  },
  {
   "spacing": 20,
   "resolve": {"scale": {"color": "independent"}, "legend": {"color": "independent"}},
   "vconcat": [
    {
     "align": "none",
     "spacing": 0,
     "resolve": {"scale": {"color": "independent"}, "legend": {"color": "independent"}},
     "hconcat": [
      {"width": 1, "height": 1, "data": {"name": "none"}, "mark": "point"},
      {
       "width": 407, "height": 308,
       "data": {"name": "per"},
       "mark": {"type": "line", "clip": true, "strokeWidth": 2.3},
       "encoding": {
        "x": {"field": "d", "type": "temporal", "scale": {"type": "utc", "domain": [1609459200000, 1767225600000]},
              "axis": {"title": null, "values": [1609459200000, 1640995200000, 1672531200000, 1704067200000, 1735689600000, 1767225600000], "labelExpr": "utcFormat(datum.value, '%Y') == '2026' ? '' : utcFormat(datum.value, '%Y')", "labelFlush": false, "labelPadding": 16, "labelOverlap": false}},
        "y": {"field": "v", "type": "quantitative", "scale": {"domain": [0, 150000], "nice": false},
              "axis": {"values": [0, 30000, 60000, 90000, 120000, 150000], "format": ",d", "labelPadding": 7, "minExtent": 128.5, "title": "(배)", "titleAngle": 0, "titleAlign": "left", "titleBaseline": "middle", "titleX": -94.5, "titleY": -42, "titleFont": "Noto Sans CJK KR", "titleFontSize": 16, "titleFontWeight": "normal", "titleColor": "#222222"}},
        "color": {"field": "s", "type": "nominal", "sort": null,
                  "scale": {"domain": ["100.0x", "200.0x", "300.0x", "400.0x", "price"], "range": ["#d99694", "#c4c4c4", "#a6a6a6", "#f9cfb0", "#c00000"]},
                  "legend": {"values": ["100.0x", "200.0x", "300.0x"], "orient": "none", "legendX": 117.5, "legendY": -47, "rowPadding": 0, "direction": "vertical"}}
       }
      }
     ]
    },
    {
     "width": 558, "height": 40,
     "layer": [
      {"data": {"name": "top"}, "mark": {"type": "rule", "color": "#404040", "strokeWidth": 2},
       "encoding": {"y": {"field": "v", "type": "quantitative", "scale": {"domain": [0, 1]}, "axis": null}}},
      {"data": {"name": "src"}, "mark": {"type": "text", "align": "left", "baseline": "middle", "dx": 2, "font": "Noto Sans CJK KR", "fontSize": 15, "color": "#222222"},
       "encoding": {"text": {"field": "t"}, "x": {"datum": 0, "type": "quantitative", "scale": {"domain": [0, 1]}, "axis": null}, "y": {"datum": 0.7, "type": "quantitative", "axis": null}}}
     ]
    }
   ]
  }
 ]
},
{
 "spacing": 23,
 "resolve": {"scale": {"color": "independent"}, "legend": {"color": "independent"}},
 "vconcat": [
  {
   "width": 558, "height": 41,
   "view": {"fill": "#d9d9d9", "stroke": null},
   "layer": [
    {"data": {"name": "one"}, "mark": {"type": "rule", "color": "#262626", "strokeWidth": 2},
     "encoding": {"y": {"field": "v", "type": "quantitative", "scale": {"domain": [0, 1]}, "axis": null}}},
    {"data": {"name": "t2"}, "mark": {"type": "text", "align": "left", "baseline": "middle", "dx": 8, "font": "Noto Sans", "fontSize": 19, "fontWeight": 600, "color": "#111111"},
     "encoding": {"text": {"field": "t"}, "x": {"datum": 0, "type": "quantitative", "scale": {"domain": [0, 1]}, "axis": null}, "y": {"datum": 0.5, "type": "quantitative", "axis": null}}}
   ]
  },
  {
   "spacing": 41,
   "resolve": {"scale": {"color": "independent"}, "legend": {"color": "independent"}},
   "vconcat": [
    {
     "align": "none",
     "spacing": 0,
     "resolve": {"scale": {"color": "independent"}, "legend": {"color": "independent"}},
     "hconcat": [
      {"width": 1, "height": 1, "data": {"name": "none"}, "mark": "point"},
      {
       "width": 371, "height": 283,
       "data": {"name": "ev"},
       "mark": {"type": "line", "clip": true, "strokeWidth": 2.3},
       "encoding": {
        "x": {"field": "d", "type": "temporal", "scale": {"type": "utc", "domain": [1609459200000, 1767225600000]},
              "axis": {"title": null, "values": [1609459200000, 1640995200000, 1672531200000, 1704067200000, 1735689600000, 1767225600000], "labelExpr": "utcFormat(datum.value, '%Y') == '2026' ? '' : utcFormat(datum.value, '%Y')", "labelFlush": false, "labelPadding": 12, "labelOverlap": false}},
        "y": {"field": "v", "type": "quantitative", "scale": {"domain": [0, 150000], "nice": false},
              "axis": {"values": [0, 30000, 60000, 90000, 120000, 150000], "format": ",d", "labelPadding": 18, "minExtent": 122, "title": "(배)", "titleAngle": 0, "titleAlign": "left", "titleBaseline": "middle", "titleX": -83, "titleY": -50.7, "titleFont": "Noto Sans CJK KR", "titleFontSize": 16, "titleFontWeight": "normal", "titleColor": "#222222"}},
        "color": {"field": "s", "type": "nominal", "sort": null,
                  "scale": {"domain": ["8.0x", "16.0x", "24.0x", "33.0x", "40.0x", "price"], "range": ["#000000", "#d99694", "#c4c4c4", "#a6a6a6", "#f9cfb0", "#c00000"]},
                  "legend": {"values": ["8.0x", "16.0x", "24.0x", "33.0x", "40.0x"], "orient": "none", "legendX": -11, "legendY": -54, "columns": 3, "direction": "horizontal", "columnPadding": 4, "rowPadding": 16}}
       }
      }
     ]
    },
    {
     "width": 558, "height": 40,
     "layer": [
      {"data": {"name": "top"}, "mark": {"type": "rule", "color": "#404040", "strokeWidth": 2},
       "encoding": {"y": {"field": "v", "type": "quantitative", "scale": {"domain": [0, 1]}, "axis": null}}},
      {"data": {"name": "src"}, "mark": {"type": "text", "align": "left", "baseline": "middle", "dx": 2, "font": "Noto Sans CJK KR", "fontSize": 15, "color": "#222222"},
       "encoding": {"text": {"field": "t"}, "x": {"datum": 0, "type": "quantitative", "scale": {"domain": [0, 1]}, "axis": null}, "y": {"datum": 0.7, "type": "quantitative", "axis": null}}}
     ]
    }
   ]
  }
 ]
}
]
}
